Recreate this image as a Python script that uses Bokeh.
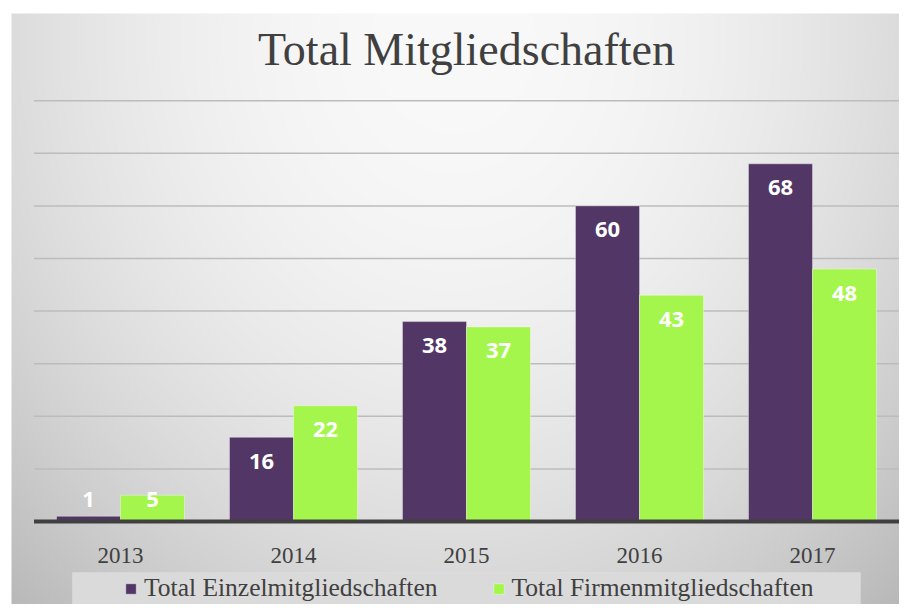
import numpy as np
from bokeh.plotting import figure
from bokeh.models import ColumnDataSource, Range1d, Label, BoxAnnotation, Legend, LegendItem
from bokeh.core.properties import value
from bokeh.embed import file_html
from bokeh.resources import INLINE

# ---- data ----
years = ["2013", "2014", "2015", "2016", "2017"]
einzel = [1, 16, 38, 60, 68]
firmen = [5, 22, 37, 43, 48]
grid_values = [10, 20, 30, 40, 50, 60, 70, 80]
title_text = "Total Mitgliedschaften"
series_names = ["Total Einzelmitgliedschaften", "Total Firmenmitgliedschaften"]

PURPLE = "#523665"
GREEN = "#a4f64c"
TEXT = "#404040"

W, H = 899, 604
X0, X1 = (0 - 120) / 173.0, (W - 120) / 173.0
Y0, Y1 = (521 - H) / 5.26, 521 / 5.26

p = figure(width=W, height=H, x_range=Range1d(X0, X1), y_range=Range1d(Y0, Y1),
           output_backend="svg", toolbar_location=None, min_border=0,
           x_axis_location=None, y_axis_location=None)
p.grid.visible = False
p.outline_line_color = None
p.background_fill_color = "white"
p.border_fill_color = "white"

# ---- background gradient (style only) ----
nx, ny = W - 11, H - 13
px = 11 + np.arange(nx)[None, :]
py = H - np.arange(ny)[:, None]
dx = (px - 453) / 520.0
dy = (py - 40) / 600.0
d2 = dx ** 2 + dy ** 2
L = np.clip(249 - 40 * d2, 180, 252).astype(np.uint8)
img = np.empty((ny, nx), dtype=np.uint32)
view = img.view(dtype=np.uint8).reshape((ny, nx, 4))
view[..., 0] = L
view[..., 1] = L
view[..., 2] = L
view[..., 3] = 255
gx0 = (11 - 120) / 173.0
gy1 = (521 - 13) / 5.26
p.image_rgba(image=[img], x=gx0, y=Y0, dw=X1 - gx0, dh=gy1 - Y0)

# ---- gridlines ----
p.segment(x0=[-0.5] * len(grid_values), x1=[4.5] * len(grid_values),
          y0=grid_values, y1=grid_values, line_color="#bcbcbc", line_width=1.5)

# ---- bars ----
idx = np.arange(len(years))
bw = 0.37
src = ColumnDataSource(dict(
    x1=idx - bw / 2, x2=idx + bw / 2, einzel=einzel, firmen=firmen, years=years, xc=idx,
    ly1=[max(v - 4.56, 4.2) for v in einzel],
    ly2=[max(v - 4.56, 4.2) for v in firmen],
    t1=[str(v) for v in einzel], t2=[str(v) for v in firmen],
))
r1 = p.vbar(x="x1", top="einzel", bottom=0, width=bw, source=src,
            fill_color=PURPLE, line_color="white", line_alpha=0.35, line_width=1)
r2 = p.vbar(x="x2", top="firmen", bottom=0, width=bw, source=src,
            fill_color=GREEN, line_color="white", line_alpha=0.35, line_width=1)

# baseline
p.segment(x0=[-0.5], x1=[4.5], y0=[0], y1=[0], line_color=TEXT, line_width=4)

# value labels
for xcol, ycol, tcol in (("x1", "ly1", "t1"), ("x2", "ly2", "t2")):
    p.text(x=xcol, y=ycol, text=tcol, source=src, text_color="white",
           text_font=value("Open Sans"), text_font_style="bold", text_font_size="22px",
           text_align="center", text_baseline="middle")

# year labels
p.text(x="xc", y=-6.46, text="years", source=src, text_color=TEXT,
       text_font=value("Liberation Serif"), text_font_size="23px",
       text_align="center", text_baseline="alphabetic")

# title
p.add_layout(Label(x=2, y=89.8, text=title_text, text_color=TEXT,
                   text_font="Liberation Serif", text_font_size="46px",
                   text_align="center", text_baseline="alphabetic"))

# legend box
p.add_layout(BoxAnnotation(left=(72 - 120) / 173.0, right=(860 - 120) / 173.0,
                           top=(521 - 572) / 5.26, bottom=Y0 - 1,
                           fill_color="#dadada", fill_alpha=1.0,
                           line_color="#e4e4e4", line_width=1))

legend = Legend(items=[LegendItem(label=series_names[0], renderers=[r1]),
                       LegendItem(label=series_names[1], renderers=[r2])],
                orientation="horizontal", location=(124, 1),
                padding=0, margin=0, spacing=54, label_standoff=7,
                glyph_width=13, glyph_height=13,
                background_fill_alpha=0, border_line_color=None,
                label_text_font="Liberation Serif", label_text_font_size="25.5px",
                label_text_color=TEXT)
p.add_layout(legend)

open("out.html", "w").write(file_html(p, INLINE))
